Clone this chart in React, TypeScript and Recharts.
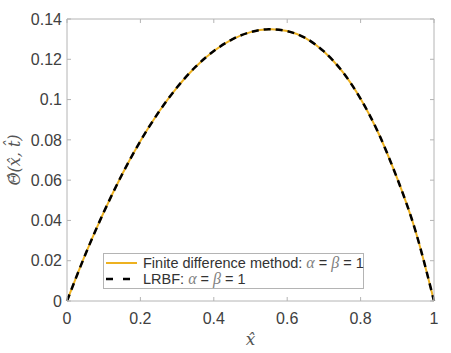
import React from "react";
import { LineChart, Line, XAxis, YAxis } from "recharts";

const xValues = [0, 0.05, 0.1, 0.15, 0.2, 0.25, 0.3, 0.35, 0.4, 0.45, 0.5, 0.55, 0.6, 0.65, 0.7, 0.75, 0.8, 0.85, 0.9, 0.95, 1];
const fdValues = [0, 0.0231, 0.044, 0.0628, 0.0794, 0.0938, 0.1061, 0.1162, 0.1241, 0.1299, 0.1335, 0.1349, 0.134, 0.1305, 0.1239, 0.114, 0.1004, 0.0828, 0.0607, 0.0345, 0];
const lrbfValues = [0, 0.0231, 0.044, 0.0628, 0.0794, 0.0938, 0.1061, 0.1162, 0.1241, 0.1299, 0.1335, 0.1349, 0.134, 0.1305, 0.1239, 0.114, 0.1004, 0.0828, 0.0607, 0.0345, 0];
const xTicks = [0, 0.2, 0.4, 0.6, 0.8, 1];
const yTicks = [0, 0.02, 0.04, 0.06, 0.08, 0.1, 0.12, 0.14];
const seriesNames = ["Finite difference method: ", "LRBF: "];

const data = xValues.map((x, i) => ({ x, fd: fdValues[i], lrbf: lrbfValues[i] }));

const BOX = "#b4b4b4";
const TXT = "#404040";
const SANS = "'Liberation Sans', Arial, Helvetica, sans-serif";
const SERIF = "'Liberation Serif', 'DejaVu Serif', 'Times New Roman', serif";
const MATH = "'DejaVu Serif', 'Liberation Serif', serif";
const ORANGE = "#EDB120";

const fmt = (v: number) => String(Number(v.toFixed(2)));

const Greek = ({ c }: { c: string }) => (
  <span style={{ fontFamily: SERIF, fontStyle: "italic", color: "#808080", fontSize: 16 }}>{c}</span>
);

const LegendBox = () => (
  <div
    style={{
      position: "absolute",
      left: 103,
      top: 253,
      border: `1px solid ${BOX}`,
      background: "#fff",
      width: 259,
      height: 32,
      boxSizing: "content-box",
      fontFamily: SANS,
      fontSize: 14.5,
      color: "#333",
      lineHeight: "16px",
      paddingTop: 1,
      paddingBottom: 1,
    }}
  >
    {seriesNames.map((name, i) => (
      <div key={name} style={{ display: "flex", alignItems: "center", height: 16 }}>
        <svg width={39} height={16} style={{ flex: "none" }}>
          {i === 0 ? (
            <line x1={2} x2={33} y1={8} y2={8} stroke={ORANGE} strokeWidth={2} />
          ) : (
            <line x1={2} x2={33} y1={8} y2={8} stroke="#000" strokeWidth={2.5} strokeDasharray="7 10" />
          )}
        </svg>
        <span style={{ whiteSpace: "pre" }}>
          {name}
          <Greek c="α" /> = <Greek c="β" /> = 1
        </span>
      </div>
    ))}
  </div>
);

export default function App() {
  return (
    <div style={{ position: "absolute", left: 0, top: 0, width: 451, height: 353, background: "#fff" }}>
      <LineChart width={451} height={353} data={data} margin={{ top: 18, right: 16, bottom: 0, left: 0 }}>
        <XAxis
          dataKey="x"
          type="number"
          domain={[0, 1]}
          ticks={xTicks}
          tickFormatter={fmt}
          height={52}
          tickSize={-4}
          tickMargin={16}
          stroke={BOX}
          tick={{ fill: TXT, fontSize: 16, fontFamily: SANS }}
          label={{
            value: "x̂",
            position: "insideBottom",
            offset: 8,
            fill: "#555",
            fontSize: 17,
            fontFamily: MATH,
            fontStyle: "italic",
          }}
        />
        <XAxis
          xAxisId="top"
          dataKey="x"
          orientation="top"
          type="number"
          domain={[0, 1]}
          ticks={xTicks}
          tickFormatter={() => ""}
          height={1}
          tickSize={-4}
          stroke={BOX}
          allowDataOverflow
        />
        <YAxis
          type="number"
          domain={[0, 0.14]}
          ticks={yTicks}
          tickFormatter={fmt}
          width={67}
          tickSize={-4}
          tickMargin={9}
          stroke={BOX}
          tick={{ fill: TXT, fontSize: 16, fontFamily: SANS }}
          label={{
            value: "Θ̂(x̂, t̂)",
            angle: -90,
            position: "insideLeft",
            offset: 14,
            fill: "#555",
            fontSize: 16,
            fontFamily: MATH,
            fontStyle: "italic",
            style: { textAnchor: "middle" },
          }}
        />
        <YAxis
          yAxisId="right"
          orientation="right"
          type="number"
          domain={[0, 0.14]}
          ticks={yTicks}
          tickFormatter={() => ""}
          width={1}
          tickSize={-4}
          stroke={BOX}
          allowDataOverflow
        />
        <Line
          xAxisId="top"
          yAxisId="right"
          dataKey="fd"
          type="natural"
          stroke="none"
          dot={false}
          legendType="none"
          isAnimationActive={false}
        />
        <Line
          dataKey="fd"
          type="natural"
          stroke={ORANGE}
          strokeWidth={2}
          dot={false}
          isAnimationActive={false}
        />
        <Line
          dataKey="lrbf"
          type="natural"
          stroke="#000"
          strokeWidth={2.5}
          strokeDasharray="7 5"
          dot={false}
          isAnimationActive={false}
        />
      </LineChart>
      <LegendBox />
    </div>
  );
}
